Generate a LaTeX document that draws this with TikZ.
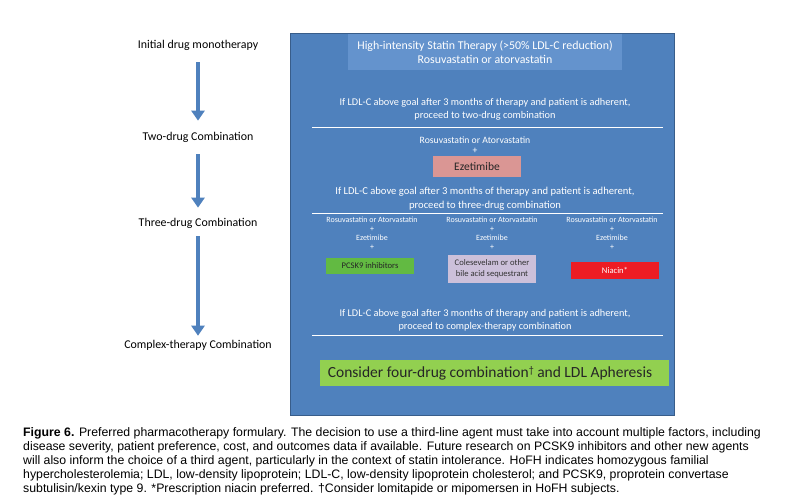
\documentclass[tikz,border=0pt]{standalone}
\usepackage{fontspec}
\setmainfont{Carlito}
\newfontfamily\capfont{Liberation Sans}
\usetikzlibrary{arrows.meta}
\definecolor{panelblue}{RGB}{79,129,189}
\definecolor{panelborder}{RGB}{56,93,138}
\definecolor{topbox}{RGB}{100,147,205}
\definecolor{ezebox}{RGB}{218,150,148}
\definecolor{pcskgreen}{RGB}{98,186,66}
\definecolor{lavender}{RGB}{204,192,218}
\definecolor{niacinred}{RGB}{237,28,36}
\definecolor{limegreen}{RGB}{146,208,80}
\definecolor{arrowblue}{RGB}{79,129,189}
\tikzset{
  lefttext/.style={font=\fontsize{11.9}{13}\selectfont, text=black, inner sep=0pt},
  whitetext/.style={text=white, inner sep=0pt, align=center},
  steparrow/.style={draw=arrowblue, line width=3.2pt, -{Triangle[width=13pt,length=10pt]}},
  sepline/.style={draw=white, line width=0.8pt},
  caprow/.style={anchor=west, inner sep=0pt, font=\capfont\fontsize{12.3}{14}\selectfont},
}
\begin{document}
\begin{tikzpicture}[x=1pt,y=-1pt]
\useasboundingbox[fill=white] (0,0) rectangle (798,496);
% panel
\node[draw=panelborder, line width=1.6pt, fill=panelblue, minimum width=384pt, minimum height=382pt, inner sep=0pt] (panel) at (482.5,224.5) {};
% top box
\node[fill=topbox, minimum width=274pt, minimum height=36pt, inner sep=0pt] (top) at (485,52) {};
\node[whitetext, font=\fontsize{11.9}{14}\selectfont] (toptext) at (485,52) {High-intensity Statin Therapy (>50\% LDL-C reduction)\\Rosuvastatin or atorvastatin};
% step 1 text
\node[whitetext, font=\fontsize{10.3}{13}\selectfont] (cond1) at (485,109.5) {If LDL-C above goal after 3 months of therapy and patient is adherent,\\proceed to two-drug combination};
\coordinate (l1a) at (312,127);
\coordinate (l1b) at (663,127);
\draw[sepline] (l1a) -- (l1b);
% two drug
\node[whitetext, font=\fontsize{9.7}{11}\selectfont] (rosu2) at (475,140) {Rosuvastatin or Atorvastatin};
\node[whitetext, font=\fontsize{9.7}{11}\selectfont] (plus2) at (475,151) {+};
\node[fill=ezebox, minimum width=88pt, minimum height=21pt, inner sep=0pt, font=\fontsize{11.5}{13}\selectfont, text=black!85] (eze) at (477,166.5) {Ezetimibe};
% step 2 text
\node[whitetext, font=\fontsize{10.6}{13.5}\selectfont] (cond2) at (485,198.5) {If LDL-C above goal after 3 months of therapy and patient is adherent,\\proceed to three-drug combination};
\coordinate (l2a) at (312,213);
\coordinate (l2b) at (663,213);
\draw[sepline] (l2a) -- (l2b);
% three columns
\foreach \cx/\nm in {372/c1, 492/c2, 612/c3}{
  \node[whitetext, font=\fontsize{8}{9}\selectfont] (\nm r) at (\cx,220) {Rosuvastatin or Atorvastatin};
  \node[whitetext, font=\fontsize{8}{9}\selectfont] (\nm p1) at (\cx,229) {+};
  \node[whitetext, font=\fontsize{8}{9}\selectfont] (\nm e) at (\cx,238) {Ezetimibe};
  \node[whitetext, font=\fontsize{8}{9}\selectfont] (\nm p2) at (\cx,247) {+};
}
\node[fill=pcskgreen, minimum width=88pt, minimum height=16pt, inner sep=0pt, font=\fontsize{8.6}{10}\selectfont, text=black!85] (pcsk) at (370,266) {PCSK9 inhibitors};
\node[fill=lavender, minimum width=88pt, minimum height=28pt, inner sep=0pt, align=center, font=\fontsize{8.6}{11}\selectfont, text=black!80] (cole) at (492,269) {Colesevelam or other\\bile acid sequestrant};
\node[fill=niacinred, minimum width=88pt, minimum height=17pt, inner sep=0pt, font=\fontsize{8.6}{10}\selectfont, text=white] (niacin) at (615,270.5) {Niacin*};
% step 3 text
\node[whitetext, font=\fontsize{10.3}{13}\selectfont] (cond3) at (485,320) {If LDL-C above goal after 3 months of therapy and patient is adherent,\\proceed to complex-therapy combination};
\coordinate (l3a) at (312,335);
\coordinate (l3b) at (663,335);
\draw[sepline] (l3a) -- (l3b);
% four drug
\node[fill=limegreen, minimum width=349pt, minimum height=26pt, inner sep=0pt] (four) at (494.5,373) {};
\node[inner sep=0pt, font=\fontsize{15.5}{17}\selectfont, text=black!85] (fourtext) at (490,373) {Consider four-drug combination\raisebox{4pt}{\fontsize{10}{11}\selectfont †} and LDL Apheresis};
% left column
\node[lefttext] (s1) at (198,45) {Initial drug monotherapy};
\node[lefttext] (s2) at (198,137) {Two-drug Combination};
\node[lefttext] (s3) at (198,223) {Three-drug Combination};
\node[lefttext] (s4) at (198,345) {Complex-therapy Combination};
\draw[steparrow] ([yshift=-12pt]s1.south) -- ([yshift=11pt]s2.north);
\draw[steparrow] ([yshift=-12pt]s2.south) -- ([yshift=10pt]s3.north);
\draw[steparrow] ([yshift=-8pt]s3.south) -- ([yshift=4pt]s4.north);
% caption
\node[caprow] (cap1) at (23,433) {\textbf{Figure 6.} Preferred pharmacotherapy formulary. The decision to use a third-line agent must take into account multiple factors, including};
\node[caprow] (cap2) at (23,447) {disease severity, patient preference, cost, and outcomes data if available. Future research on PCSK9 inhibitors and other new agents};
\node[caprow] (cap3) at (23,461) {will also inform the choice of a third agent, particularly in the context of statin intolerance. HoFH indicates homozygous familial};
\node[caprow] (cap4) at (23,475) {hypercholesterolemia; LDL, low-density lipoprotein; LDL-C, low-density lipoprotein cholesterol; and PCSK9, proprotein convertase};
\node[caprow] (cap5) at (23,489) {subtulisin/kexin type 9. *Prescription niacin preferred. \dag Consider lomitapide or mipomersen in HoFH subjects.};
\end{tikzpicture}
\end{document}
